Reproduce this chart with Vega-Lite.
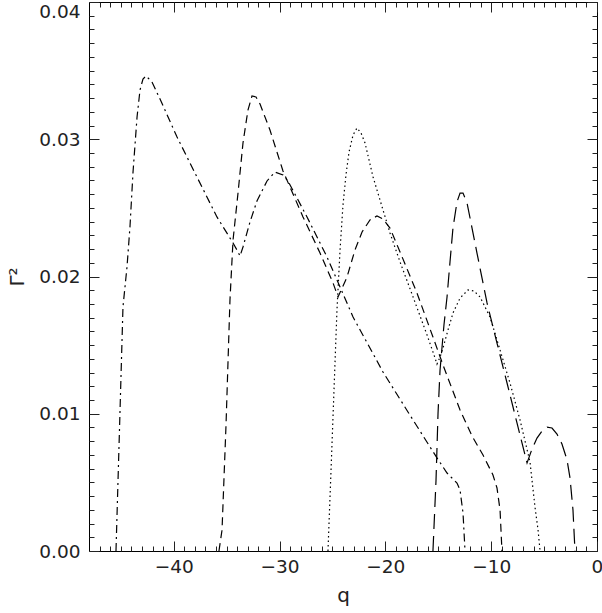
{
  "$schema": "https://vega.github.io/schema/vega-lite/v6.json",
  "width": 508,
  "height": 549,
  "autosize": "none",
  "padding": {"left": 89, "top": 2, "right": 5, "bottom": 62},
  "background": "white",
  "config": {
    "view": {"stroke": "black", "strokeWidth": 1},
    "axis": {
      "domain": false,
      "ticks": false,
      "labelColor": "#222",
      "titleColor": "#222",
      "labelFont": "DejaVu Sans",
      "titleFont": "DejaVu Sans",
      "labelFontSize": 18.5,
      "titleFontSize": 20,
      "titleFontWeight": "normal",
      "gridColor": "#222",
      "gridOpacity": 1,
      "gridWidth": 1,
      "labelOverlap": false,
      "labelBound": false,
      "labelFlush": false
    }
  },
  "datasets": {
    "curves": [
      {"series": "dd", "q": -45.45, "v": 0},
      {"series": "dd", "q": -45.12, "v": 0.00882},
      {"series": "dd", "q": -44.79, "v": 0.01778},
      {"series": "dd", "q": -44.41, "v": 0.02069},
      {"series": "dd", "q": -44.13, "v": 0.02361},
      {"series": "dd", "q": -43.84, "v": 0.02761},
      {"series": "dd", "q": -43.46, "v": 0.03162},
      {"series": "dd", "q": -43.18, "v": 0.03359},
      {"series": "dd", "q": -42.90, "v": 0.03439},
      {"series": "dd", "q": -42.61, "v": 0.03461},
      {"series": "dd", "q": -42.05, "v": 0.03417},
      {"series": "dd", "q": -41.29, "v": 0.03293},
      {"series": "dd", "q": -39.68, "v": 0.03016},
      {"series": "dd", "q": -37.80, "v": 0.02725},
      {"series": "dd", "q": -35.91, "v": 0.02434},
      {"series": "dd", "q": -34.39, "v": 0.02244},
      {"series": "dd", "q": -33.92, "v": 0.02179},
      {"series": "dd", "q": -33.73, "v": 0.02149},
      {"series": "dd", "q": -33.45, "v": 0.02215},
      {"series": "dd", "q": -32.79, "v": 0.02397},
      {"series": "dd", "q": -32.13, "v": 0.02550},
      {"series": "dd", "q": -31.18, "v": 0.02696},
      {"series": "dd", "q": -30.43, "v": 0.02761},
      {"series": "dd", "q": -29.67, "v": 0.02740},
      {"series": "dd", "q": -29.20, "v": 0.02696},
      {"series": "dd", "q": -27.40, "v": 0.02434},
      {"series": "dd", "q": -25.51, "v": 0.02142},
      {"series": "dd", "q": -24.28, "v": 0.01924},
      {"series": "dd", "q": -23.05, "v": 0.01705},
      {"series": "dd", "q": -20.22, "v": 0.01304},
      {"series": "dd", "q": -17.86, "v": 0.01013},
      {"series": "dd", "q": -15.12, "v": 0.00678},
      {"series": "dd", "q": -14.17, "v": 0.00568},
      {"series": "dd", "q": -13.23, "v": 0.00495},
      {"series": "dd", "q": -12.94, "v": 0.00444},
      {"series": "dd", "q": -12.66, "v": 0.00277},
      {"series": "dd", "q": -12.47, "v": 0},

      {"series": "sd", "q": -35.72, "v": 0},
      {"series": "sd", "q": -35.43, "v": 0.00153},
      {"series": "sd", "q": -35.05, "v": 0.00925},
      {"series": "sd", "q": -34.68, "v": 0.01829},
      {"series": "sd", "q": -34.39, "v": 0.02266},
      {"series": "sd", "q": -33.92, "v": 0.02608},
      {"series": "sd", "q": -33.45, "v": 0.02973},
      {"series": "sd", "q": -32.98, "v": 0.03213},
      {"series": "sd", "q": -32.60, "v": 0.03315},
      {"series": "sd", "q": -32.22, "v": 0.03308},
      {"series": "sd", "q": -31.84, "v": 0.03257},
      {"series": "sd", "q": -30.90, "v": 0.03067},
      {"series": "sd", "q": -29.67, "v": 0.02769},
      {"series": "sd", "q": -27.78, "v": 0.02434},
      {"series": "sd", "q": -26.17, "v": 0.02171},
      {"series": "sd", "q": -24.94, "v": 0.01953},
      {"series": "sd", "q": -24.47, "v": 0.01851},
      {"series": "sd", "q": -23.62, "v": 0.01996},
      {"series": "sd", "q": -22.87, "v": 0.02193},
      {"series": "sd", "q": -22.20, "v": 0.02324},
      {"series": "sd", "q": -21.45, "v": 0.02412},
      {"series": "sd", "q": -20.79, "v": 0.02441},
      {"series": "sd", "q": -20.22, "v": 0.02419},
      {"series": "sd", "q": -19.56, "v": 0.02353},
      {"series": "sd", "q": -18.61, "v": 0.02179},
      {"series": "sd", "q": -17.01, "v": 0.01880},
      {"series": "sd", "q": -15.50, "v": 0.01559},
      {"series": "sd", "q": -14.55, "v": 0.01355},
      {"series": "sd", "q": -12.94, "v": 0.01027},
      {"series": "sd", "q": -11.81, "v": 0.00838},
      {"series": "sd", "q": -10.77, "v": 0.00699},
      {"series": "sd", "q": -9.83, "v": 0.00554},
      {"series": "sd", "q": -9.45, "v": 0.00459},
      {"series": "sd", "q": -9.16, "v": 0.00299},
      {"series": "sd", "q": -8.98, "v": 0},

      {"series": "dot", "q": -25.42, "v": 0},
      {"series": "dot", "q": -25.13, "v": 0.00590},
      {"series": "dot", "q": -24.85, "v": 0.01173},
      {"series": "dot", "q": -24.57, "v": 0.01756},
      {"series": "dot", "q": -24.28, "v": 0.02193},
      {"series": "dot", "q": -24.00, "v": 0.02521},
      {"series": "dot", "q": -23.72, "v": 0.02740},
      {"series": "dot", "q": -23.43, "v": 0.02907},
      {"series": "dot", "q": -23.05, "v": 0.03031},
      {"series": "dot", "q": -22.68, "v": 0.03082},
      {"series": "dot", "q": -22.30, "v": 0.03046},
      {"series": "dot", "q": -21.92, "v": 0.02973},
      {"series": "dot", "q": -21.16, "v": 0.02725},
      {"series": "dot", "q": -20.22, "v": 0.02485},
      {"series": "dot", "q": -19.56, "v": 0.02317},
      {"series": "dot", "q": -18.61, "v": 0.02106},
      {"series": "dot", "q": -17.38, "v": 0.01851},
      {"series": "dot", "q": -16.06, "v": 0.01574},
      {"series": "dot", "q": -15.40, "v": 0.01428},
      {"series": "dot", "q": -15.12, "v": 0.01362},
      {"series": "dot", "q": -14.83, "v": 0.01413},
      {"series": "dot", "q": -14.55, "v": 0.01479},
      {"series": "dot", "q": -14.08, "v": 0.01610},
      {"series": "dot", "q": -13.61, "v": 0.01734},
      {"series": "dot", "q": -12.94, "v": 0.01843},
      {"series": "dot", "q": -12.19, "v": 0.01902},
      {"series": "dot", "q": -11.62, "v": 0.01894},
      {"series": "dot", "q": -11.05, "v": 0.01851},
      {"series": "dot", "q": -10.11, "v": 0.01705},
      {"series": "dot", "q": -9.16, "v": 0.01464},
      {"series": "dot", "q": -8.22, "v": 0.01224},
      {"series": "dot", "q": -7.27, "v": 0.00954},
      {"series": "dot", "q": -6.33, "v": 0.00648},
      {"series": "dot", "q": -5.86, "v": 0.00321},
      {"series": "dot", "q": -5.57, "v": 0.00153},
      {"series": "dot", "q": -5.38, "v": 0},

      {"series": "ld", "q": -15.50, "v": 0},
      {"series": "ld", "q": -15.21, "v": 0.00517},
      {"series": "ld", "q": -15.02, "v": 0.01005},
      {"series": "ld", "q": -14.83, "v": 0.01319},
      {"series": "ld", "q": -14.46, "v": 0.01647},
      {"series": "ld", "q": -14.17, "v": 0.01851},
      {"series": "ld", "q": -13.89, "v": 0.02106},
      {"series": "ld", "q": -13.61, "v": 0.02353},
      {"series": "ld", "q": -13.23, "v": 0.02543},
      {"series": "ld", "q": -12.94, "v": 0.02608},
      {"series": "ld", "q": -12.66, "v": 0.02608},
      {"series": "ld", "q": -12.28, "v": 0.02536},
      {"series": "ld", "q": -11.34, "v": 0.02171},
      {"series": "ld", "q": -10.39, "v": 0.01807},
      {"series": "ld", "q": -9.45, "v": 0.01515},
      {"series": "ld", "q": -8.50, "v": 0.01224},
      {"series": "ld", "q": -7.56, "v": 0.00933},
      {"series": "ld", "q": -6.61, "v": 0.00641},
      {"series": "ld", "q": -6.14, "v": 0.00743},
      {"series": "ld", "q": -5.67, "v": 0.00823},
      {"series": "ld", "q": -5.20, "v": 0.00874},
      {"series": "ld", "q": -4.72, "v": 0.00903},
      {"series": "ld", "q": -4.25, "v": 0.00896},
      {"series": "ld", "q": -3.78, "v": 0.00852},
      {"series": "ld", "q": -3.31, "v": 0.00780},
      {"series": "ld", "q": -2.83, "v": 0.00663},
      {"series": "ld", "q": -2.55, "v": 0.00532},
      {"series": "ld", "q": -2.27, "v": 0.00299},
      {"series": "ld", "q": -2.08, "v": 0}
    ]
  },
  "data": {"name": "curves"},
  "layer": [
    {
      "mark": {"type": "line", "color": "black", "strokeWidth": 1.2},
      "encoding": {
        "x": {
          "field": "q", "type": "quantitative",
          "scale": {"domain": [-48, 0], "nice": false, "zero": false},
          "axis": {
            "orient": "bottom",
            "values": [-40, -30, -20, -10, 0],
            "format": "d",
            "labelPadding": 6,
            "grid": true,
            "gridDash": [10, 529, 10, 600],
            "title": "q",
            "titlePadding": 10
          }
        },
        "y": {
          "field": "v", "type": "quantitative",
          "scale": {"domain": [0, 0.04], "nice": false, "zero": false},
          "axis": {
            "orient": "left",
            "values": [0, 0.01, 0.02, 0.03, 0.04],
            "format": ".2f",
            "labelPadding": 9,
            "labelBaseline": {"condition": {"test": "datum.value >= 0.039", "value": "top"}, "value": "middle"},
            "grid": true,
            "gridDash": [10, 488, 10, 600],
            "title": "Γ²",
            "titlePadding": 11
          }
        },
        "strokeDash": {
          "field": "series", "type": "nominal",
          "scale": {"domain": ["dd", "sd", "dot", "ld"], "range": [[8, 4, 2, 4], [8, 5], [1.5, 3], [15, 7]]},
          "legend": null
        }
      }
    },
    {
      "mark": {"type": "line", "opacity": 0},
      "encoding": {
        "x": {
          "field": "q", "type": "quantitative",
          "scale": {"domain": [-48, 0], "nice": false, "zero": false},
          "axis": {
            "orient": "bottom",
            "values": [-47,-46,-45,-44,-43,-42,-41,-39,-38,-37,-36,-35,-34,-33,-32,-31,-29,-28,-27,-26,-25,-24,-23,-22,-21,-19,-18,-17,-16,-15,-14,-13,-12,-11,-9,-8,-7,-6,-5,-4,-3,-2,-1],
            "labels": false, "title": null,
            "grid": true, "gridDash": [5, 539, 5, 600]
          }
        },
        "y": {
          "field": "v", "type": "quantitative",
          "scale": {"domain": [0, 0.04], "nice": false, "zero": false},
          "axis": {
            "orient": "left",
            "values": [0.001,0.002,0.003,0.004,0.005,0.006,0.007,0.008,0.009,0.011,0.012,0.013,0.014,0.015,0.016,0.017,0.018,0.019,0.021,0.022,0.023,0.024,0.025,0.026,0.027,0.028,0.029,0.031,0.032,0.033,0.034,0.035,0.036,0.037,0.038,0.039],
            "labels": false, "title": null,
            "grid": true, "gridDash": [5, 498, 5, 600]
          }
        }
      }
    }
  ],
  "resolve": {"axis": {"x": "independent", "y": "independent"}}
}
